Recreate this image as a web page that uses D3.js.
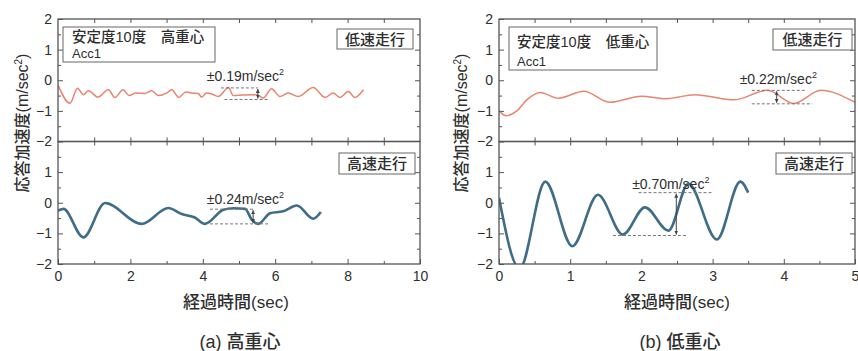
<!DOCTYPE html>
<html><head><meta charset="utf-8">
<script src="https://cdn.jsdelivr.net/npm/d3@7"></script>
<style>
body{margin:0;background:#fff;}
svg text{font-family:"Liberation Sans","Noto Sans CJK JP",sans-serif;fill:#2e2e2e;}
.jp{font-weight:500;}
</style></head><body>
<svg id="c" width="858" height="351"></svg>
<script>
// (a) 高重心 — 低速走行
const hiLowT = [0, 0.33, 0.54, 0.70, 0.84, 1.10, 1.39, 1.57, 1.80, 1.96, 2.15, 2.40, 2.59, 2.77, 3.00, 3.14, 3.34, 3.53, 3.70, 3.87, 3.97, 4.10, 4.25, 4.43, 4.71, 4.84, 5.10, 5.49, 5.67, 5.90, 6.13, 6.36, 6.64, 7.05, 7.38, 7.60, 7.79, 8.02, 8.20, 8.44];
const hiLowV = [-0.16, -0.75, -0.26, -0.47, -0.34, -0.55, -0.31, -0.56, -0.31, -0.50, -0.42, -0.43, -0.34, -0.50, -0.42, -0.31, -0.56, -0.38, -0.42, -0.43, -0.55, -0.42, -0.45, -0.53, -0.24, -0.50, -0.48, -0.47, -0.58, -0.28, -0.53, -0.42, -0.53, -0.24, -0.56, -0.42, -0.56, -0.37, -0.56, -0.31];
// (a) 高重心 — 高速走行
const hiHighT = [0, 0.15, 0.70, 1.30, 2.31, 3.05, 3.42, 3.78, 4.06, 4.57, 4.85, 5.17, 5.35, 5.53, 5.86, 6.22, 6.60, 7.05, 7.26];
const hiHighV = [-0.26, -0.20, -1.13, -0.01, -0.69, -0.17, -0.37, -0.48, -0.69, -0.23, -0.18, -0.20, -0.55, -0.69, -0.34, -0.28, -0.09, -0.52, -0.30];
// (b) 低重心 — 低速走行
const loLowT = [0, 0.10, 0.25, 0.39, 0.58, 0.83, 1.19, 1.56, 2.00, 2.35, 2.75, 3.30, 3.77, 4.14, 4.52, 5.00];
const loLowV = [-1.00, -1.16, -1.00, -0.64, -0.40, -0.59, -0.36, -0.72, -0.52, -0.60, -0.47, -0.64, -0.33, -0.76, -0.33, -0.72];
// (b) 低重心 — 高速走行
const loHighT = [0, 0.29, 0.65, 1.03, 1.39, 1.74, 2.05, 2.38, 2.66, 3.06, 3.39, 3.50];
const loHighV = [0.16, -2.15, 0.69, -1.42, 0.26, -1.04, -0.15, -0.91, 0.62, -1.20, 0.69, 0.33];

// axis ticks
const xTicksA = [0, 2, 4, 6, 8, 10];
const xMinorA = [1, 3, 5, 7, 9];
const xTicksB = [0, 1, 2, 3, 4, 5];
const xMinorB = [0.5, 1.5, 2.5, 3.5, 4.5];
const yTicksTop = [2, 1, 0, -1, -2];
const yTicksBottom = [1, 0, -1, -2];
const yMinor = [1.5, 0.5, -0.5, -1.5];

// peak-to-peak bands: half amplitude and centre value of each trace
const ampValues = [0.19, 0.24, 0.22, 0.70];
const ampCentres = [-0.44, -0.45, -0.55, -0.37];

const titles = ["安定度10度　高重心", "安定度10度　低重心"];
const captions = ["(a) 高重心", "(b) 低重心"];
const speeds = ["低速走行", "高速走行"];

const svg = d3.select("#c");
const zip = (t, v) => t.map((d, i) => [d, v[i]]);

const panels = [
  {x: d3.scaleLinear([0, 10], [58, 420]), ticks: xTicksA, minor: xMinorA,
   series: [zip(hiLowT, hiLowV), zip(hiHighT, hiHighV)],
   ann: [{u: [4.50, 5.52], l: [4.60, 5.80], a: 5.52, tx: 4.11, off: 7},
         {u: [4.20, 5.39], l: [4.20, 5.86], a: 5.39, tx: 4.11, off: 5}],
   box: {x0: 63, x1: 215, y0: 27, y1: 62, l1: 42, l2: 58, tx: 72, fs: 14},
   speedBox: [{x0: 337, x1: 413, y0: 29, y1: 49}, {x0: 339, x1: 415, y0: 153, y1: 174}],
   yTitleX: 22, xTitleX: 236, capX: 240},
  {x: d3.scaleLinear([0, 5], [499, 855]), ticks: xTicksB, minor: xMinorB,
   series: [zip(loLowT, loLowV), zip(loHighT, loHighV)],
   ann: [{u: [3.55, 4.32], l: [3.55, 4.40], a: 3.90, tx: 3.38, off: 6},
         {u: [1.96, 2.99], l: [1.60, 2.65], a: 2.49, tx: 1.87, off: 4}],
   box: {x0: 509, x1: 657, y0: 27, y1: 70, l1: 47, l2: 66, tx: 517, fs: 14},
   speedBox: [{x0: 773, x1: 852, y0: 29, y1: 50}, {x0: 776, x1: 852, y0: 153, y1: 174}],
   yTitleX: 461, xTitleX: 677, capX: 680}
];

const yTop = d3.scaleLinear([-2, 2], [141.5, 19]);
const yBot = d3.scaleLinear([-2, 2], [264, 141.5]);
const colors = ["#e8846f", "#3f6d88"];
const widths = [1.5, 2.6];

const defs = svg.append("defs");
["up", "down"].forEach(dir => {
  defs.append("marker").attr("id", "arr-" + dir)
    .attr("viewBox", "0 0 6 6").attr("refX", 3).attr("refY", dir === "up" ? 0 : 6)
    .attr("markerWidth", 4).attr("markerHeight", 4).attr("markerUnits", "userSpaceOnUse")
    .append("path").attr("d", dir === "up" ? "M0,6L3,0L6,6Z" : "M0,0L3,6L6,0Z").attr("fill", "#444");
});

const styleAxis = g => {
  g.select(".domain").remove();
  g.selectAll(".tick line").attr("stroke", "#555").attr("stroke-width", 1);
  g.selectAll(".tick text").attr("font-size", 14).attr("fill", "#2e2e2e")
    .attr("font-family", "Liberation Sans, sans-serif");
};

panels.forEach((p, pi) => {
  const g = svg.append("g");
  const [xa, xb] = p.x.range();
  const fmt = d3.format("d");

  [yTop, yBot].forEach((y, si) => {
    const [yb, ya] = y.range();
    const clipId = `clip${pi}${si}`;
    defs.append("clipPath").attr("id", clipId).append("rect")
      .attr("x", xa).attr("y", ya).attr("width", xb - xa).attr("height", yb - ya);

    // acceleration trace
    const line = d3.line().x(d => p.x(d[0])).y(d => y(d[1])).curve(d3.curveMonotoneX);
    g.append("path").datum(p.series[si]).attr("d", line)
      .attr("fill", "none").attr("stroke", colors[si]).attr("stroke-width", widths[si])
      .attr("stroke-linejoin", "round").attr("clip-path", `url(#${clipId})`);

    // y ticks, left (labelled) and right
    g.append("g").attr("transform", `translate(${xa},0)`)
      .call(d3.axisLeft(y).tickValues(si === 0 ? yTicksTop : yTicksBottom)
        .tickSizeInner(-5).tickSizeOuter(0).tickPadding(6).tickFormat(fmt)).call(styleAxis);
    g.append("g").attr("transform", `translate(${xa},0)`)
      .call(d3.axisLeft(y).tickValues(yMinor).tickSizeInner(-3).tickSizeOuter(0).tickFormat("")).call(styleAxis);
    g.append("g").attr("transform", `translate(${xb},0)`)
      .call(d3.axisRight(y).tickValues([1, 0, -1]).tickSizeInner(-5).tickSizeOuter(0).tickFormat("")).call(styleAxis);
    g.append("g").attr("transform", `translate(${xb},0)`)
      .call(d3.axisRight(y).tickValues(yMinor).tickSizeInner(-3).tickSizeOuter(0).tickFormat("")).call(styleAxis);

    // frame
    g.append("rect").attr("x", xa).attr("y", ya).attr("width", xb - xa).attr("height", yb - ya)
      .attr("fill", "none").attr("stroke", "#555").attr("stroke-width", 1.3);

    // speed label box
    const sb = p.speedBox[si];
    g.append("rect").attr("x", sb.x0).attr("y", sb.y0).attr("width", sb.x1 - sb.x0).attr("height", sb.y1 - sb.y0)
      .attr("fill", "#fff").attr("stroke", "#666").attr("stroke-width", 1);
    g.append("text").attr("class", "jp").attr("x", (sb.x0 + sb.x1) / 2).attr("y", (sb.y0 + sb.y1) / 2 + 5.5)
      .attr("text-anchor", "middle").attr("font-size", 15).text(speeds[si]);

    // amplitude band: dashed limits, double arrow and label
    const an = p.ann[si];
    const amp = ampValues[pi * 2 + si], c = ampCentres[pi * 2 + si];
    const yu = y(c + amp), yl = y(c - amp);
    [[an.u, yu], [an.l, yl]].forEach(([r, yy]) => {
      g.append("line").attr("x1", p.x(r[0])).attr("x2", p.x(r[1])).attr("y1", yy).attr("y2", yy)
        .attr("stroke", "#777").attr("stroke-width", 1).attr("stroke-dasharray", "3,2");
    });
    g.append("line").attr("x1", p.x(an.a)).attr("x2", p.x(an.a)).attr("y1", yu + 1).attr("y2", yl - 1)
      .attr("stroke", "#444").attr("stroke-width", 1)
      .attr("marker-start", "url(#arr-up)").attr("marker-end", "url(#arr-down)");
    const t = g.append("text").attr("x", p.x(an.tx)).attr("y", yu - an.off).attr("font-size", 14);
    t.append("tspan").text("±" + amp.toFixed(2) + "m/sec");
    t.append("tspan").attr("dy", -6).attr("font-size", 9).text("2");
  });

  // x ticks: bottom axis, top edge, shared middle line
  const yB = yBot.range()[0], yM = yTop.range()[0], yT = yTop.range()[1];
  g.append("g").attr("transform", `translate(0,${yB})`)
    .call(d3.axisBottom(p.x).tickValues(p.ticks).tickSizeInner(-5).tickSizeOuter(0).tickPadding(7).tickFormat(fmt)).call(styleAxis);
  g.append("g").attr("transform", `translate(0,${yB})`)
    .call(d3.axisBottom(p.x).tickValues(p.minor).tickSizeInner(-3).tickSizeOuter(0).tickFormat("")).call(styleAxis);
  const all = p.ticks.concat(p.minor).filter(v => v !== p.x.domain()[0] && v !== p.x.domain()[1]);
  g.append("g").attr("transform", `translate(0,${yT})`)
    .call(d3.axisTop(p.x).tickValues(all).tickSizeInner(-4).tickSizeOuter(0).tickFormat("")).call(styleAxis);
  g.append("g").attr("transform", `translate(0,${yM})`)
    .call(d3.axisBottom(p.x).tickValues(all).tickSizeInner(-4).tickSizeOuter(0).tickFormat("")).call(styleAxis);
  g.append("g").attr("transform", `translate(0,${yM})`)
    .call(d3.axisTop(p.x).tickValues(all).tickSizeInner(-4).tickSizeOuter(0).tickFormat("")).call(styleAxis);

  // condition box
  const b = p.box;
  g.append("rect").attr("x", b.x0).attr("y", b.y0).attr("width", b.x1 - b.x0).attr("height", b.y1 - b.y0)
    .attr("fill", "#fff").attr("stroke", "#666").attr("stroke-width", 1);
  g.append("text").attr("class", "jp").attr("x", b.tx).attr("y", b.l1).attr("font-size", b.fs + 0.5).text(titles[pi]);
  g.append("text").attr("x", b.tx).attr("y", b.l2).attr("font-size", b.fs - 1).text("Acc1");

  // axis titles
  const yt = g.append("text").attr("class", "jp").attr("transform", `translate(${p.yTitleX},123) rotate(-90)`)
    .attr("text-anchor", "middle").attr("dy", "0.35em").attr("font-size", 16);
  yt.append("tspan").text("応答加速度(m/sec");
  yt.append("tspan").attr("dy", -6).attr("font-size", 10).text("2");
  yt.append("tspan").attr("dy", 6).text(")");

  g.append("text").attr("class", "jp").attr("x", p.xTitleX).attr("y", 308).attr("text-anchor", "middle")
    .attr("font-size", 17).text("経過時間(sec)");
  g.append("text").attr("class", "jp").attr("x", p.capX).attr("y", 348).attr("text-anchor", "middle")
    .attr("font-size", 18).text(captions[pi]);
});
</script>
</body></html>
